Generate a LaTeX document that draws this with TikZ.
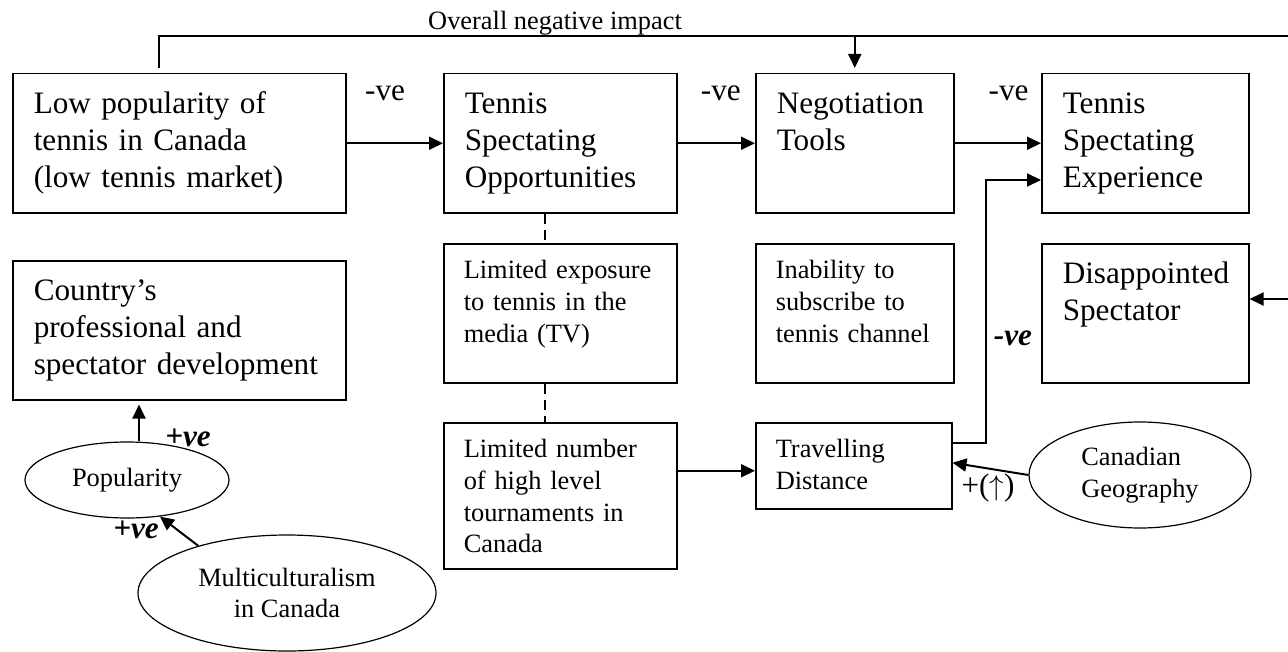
\documentclass[tikz,border=0pt]{standalone}
\usepackage{fontspec}
\setmainfont{Liberation Serif}
\usetikzlibrary{arrows.meta, shapes.geometric, calc}
\hyphenpenalty=10000

\newcommand{\bigtxt}{\fontsize{15.6}{18.5}\selectfont}
\newcommand{\smalltxt}{\fontsize{13.2}{15.85}\selectfont}

\tikzset{
    bigbox/.style={draw, line width=0.75pt, anchor=north west, align=left, inner xsep=10.5pt, inner ysep=0pt, text height=20pt, font=\bigtxt},
    smallbox/.style={draw, line width=0.75pt, anchor=north west, align=left, inner xsep=10pt, inner ysep=0pt, text height=17.5pt, font=\smalltxt},
    oval/.style={draw, ellipse, line width=0.6pt, inner sep=0pt, font=\smalltxt},
    arr/.style={-{Triangle[length=7pt, width=6.5pt]}, line width=1pt},
    lnk/.style={line width=0.8pt},
    sign/.style={font=\bigtxt, inner sep=0pt},
    hand/.style={font=\bigtxt\bfseries\itshape, inner sep=0pt},
}

\begin{document}
\begin{tikzpicture}[x=0.5pt, y=-0.5pt]
    \useasboundingbox (0,0) rectangle (1288,652);

    % top row
    \node[bigbox, text width=145.5pt, text depth=49.5pt] (low) at (12,73) {Low popularity of\\ tennis in Canada\\ (low tennis market)};
    \node[bigbox, text width=95.5pt, text depth=49.5pt] (opp) at (443,73) {Tennis\\ Spectating\\ Opportunities};
    \node[bigbox, text width=78pt, text depth=49.5pt] (nego) at (755,73) {Negotiation\\ Tools};
    \node[bigbox, text width=82.5pt, text depth=49.5pt] (exp) at (1041,73) {Tennis\\ Spectating\\ Experience};

    % second row
    \node[bigbox, text width=145.5pt, text depth=49.5pt] (dev) at (12,260) {Country's\\ professional and\\ spectator development};
    \node[smallbox, text width=96.5pt, text depth=52pt] (media) at (443,243) {Limited exposure\\ to tennis in the\\ media (TV)};
    \node[smallbox, text width=79pt, text depth=52pt] (chan) at (755,243) {Inability to\\ subscribe to\\ tennis channel};
    \node[bigbox, text width=82.5pt, text depth=49.5pt] (dis) at (1041,243) {Disappointed\\ Spectator};

    % bottom row
    \node[smallbox, text width=96.5pt, text depth=55.5pt] (tourn) at (443,422) {Limited number\\ of high level\\ tournaments in\\ Canada};
    \node[smallbox, text width=78pt, text depth=25.5pt] (dist) at (755,422) {Travelling\\ Distance};
    \node[oval, minimum width=111pt, minimum height=53pt, align=left] (geo) at (1140,475) {Canadian\\ Geography};
    \node[oval, minimum width=102pt, minimum height=38pt] (pop) at (127,480) {Popularity};
    \node[oval, minimum width=149pt, minimum height=58pt, align=center] (multi) at (287,593) {Multiculturalism\\ in Canada};

    % overall impact line
    \coordinate (impact) at (1288,36);
    \draw[lnk] ($(low.north)+(-20,-5)$) |- (impact);
    \draw[arr] (impact -| nego.north) -- ($(nego.north)+(0,-5)$);
    \node[sign, font=\smalltxt, anchor=base] (impactlbl) at (555,30) {Overall negative impact};

    % main chain
    \draw[arr] (low.east) -- node[sign, anchor=base, pos=0.4, yshift=21.25pt] (ve1) {-ve} (opp.west);
    \draw[arr] (opp.east) -- node[sign, anchor=base, pos=0.56, yshift=21.25pt] (ve2) {-ve} (nego.west);
    \draw[arr] (nego.east) -- node[sign, anchor=base, pos=0.625, yshift=21.25pt] (ve3) {-ve} (exp.west);

    % dashed links
    \draw[lnk, dash pattern=on 5pt off 3pt] ($(opp.south)+(-15,0)$) -- ($(media.north)+(-15,0)$);
    \draw[lnk, dash pattern=on 5pt off 3pt] ($(media.south)+(-15,0)$) -- ($(tourn.north)+(-15,0)$);

    % travelling distance
    \draw[arr] ([yshift=-2.5pt]dist.west -| tourn.east) -- ([yshift=-2.5pt]dist.west);
    \coordinate (turn) at (986,180);
    \draw[arr] ([yshift=11.5pt]dist.east) -| (turn) -- (turn -| exp.west);
    \node[hand] (ve4) at (1013,338) {-ve};
    \draw[arr] (geo.west) -- ([yshift=1.5pt]dist.east);
    \node[sign] (up) at (988,488) {+($\uparrow$)};

    % disappointed spectator
    \coordinate (disin) at (1288,299);
    \draw[arr] (disin) -- (disin -| dis.east);

    % popularity
    \draw[arr, shorten >=2pt] ([xshift=6pt]pop.north) -- ([xshift=6pt]pop.north |- dev.south);
    \node[hand] (ve5) at (188,438) {+ve};
    \draw[arr] (multi.152) -- (pop.-48);
    \node[hand] (ve6) at (136,530) {+ve};
\end{tikzpicture}
\end{document}
